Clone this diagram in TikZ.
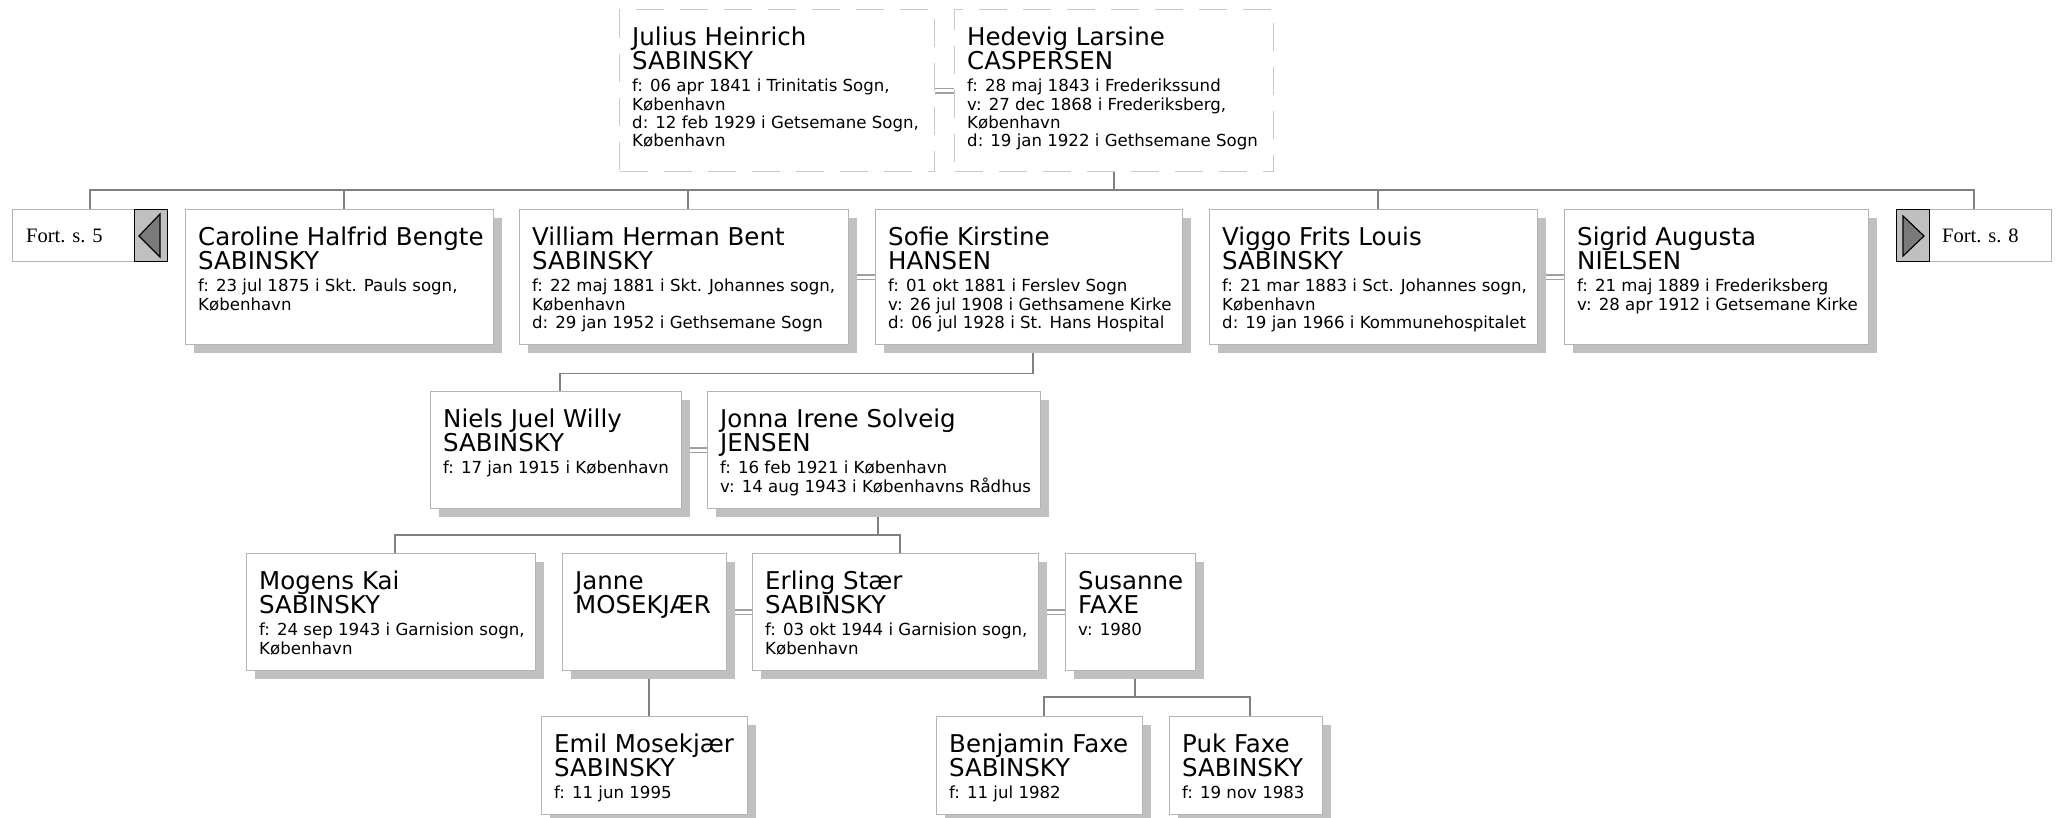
\documentclass[tikz,border=0pt]{standalone}
\usepackage{fontspec}
\setmainfont{DejaVu Sans}
\newfontfamily\fortfont{Liberation Serif}
\usepackage{tikz}
\usetikzlibrary{shadows}
\usetikzlibrary{backgrounds}

\definecolor{boxgray}{HTML}{B4B4B4}
\definecolor{shadowgray}{HTML}{C0C0C0}
\definecolor{linegray}{HTML}{808080}
\definecolor{wedgray}{HTML}{A0A0A0}
\definecolor{dashgray}{HTML}{C8C8C8}
\definecolor{btngray}{HTML}{C0C0C0}
\definecolor{trigray}{HTML}{7A7A7A}

\newcommand{\namefont}{\fontsize{24.5}{24.5}\selectfont}
\newcommand{\infofont}{\fontsize{16.6}{18.4}\selectfont\lineskiplimit=-50pt}
\newcommand{\nm}[1]{{\namefont\rule{0pt}{19pt}#1}}

\begin{document}
\begin{tikzpicture}[x=1pt, y=-1pt,
	card/.style={draw=boxgray, line width=1.4pt, fill=white, anchor=north west, inner sep=0pt,
		drop shadow={shadow xshift=8pt, shadow yshift=-8pt, fill=shadowgray, opacity=1}},
	parent/.style={draw=dashgray, line width=1.4pt, dash pattern=on 28pt off 16pt, fill=white, anchor=north west, inner sep=0pt},
	info/.style={anchor=north west, align=left, inner xsep=13pt, inner ysep=17pt, font=\infofont},
	fortbox/.style={draw=boxgray, line width=1.4pt, fill=white, anchor=north west, inner sep=0pt, minimum width=155pt, minimum height=52pt},
	fortbtn/.style={draw=black, line width=1.4pt, fill=btngray, anchor=north west, inner sep=0pt, minimum width=33pt, minimum height=52pt},
	forttxt/.style={anchor=base west, inner sep=0pt, font=\fortfont\fontsize{20.5}{24}\selectfont},
	tri/.style={draw=black, line width=1.2pt, fill=trigray, line join=miter},
	link/.style={draw=linegray, line width=1.8pt},
	wed/.style={draw=wedgray, line width=1.6pt, double=white, double distance=3pt}]
	\useasboundingbox (0,0) rectangle (2060,817);

	\node[parent, minimum width=315pt, minimum height=162pt] (julius) at (619,9) {};
	\node[info] (julius-t) at (julius.north west) {\nm{Julius Heinrich}\\[6.1pt]\nm{SABINSKY}\\[3.6pt]f: 06 apr 1841 i Trinitatis Sogn,\\København\\d: 12 feb 1929 i Getsemane Sogn,\\København};
	\node[parent, minimum width=319pt, minimum height=162pt] (hedevig) at (954,9) {};
	\node[info] (hedevig-t) at (hedevig.north west) {\nm{Hedevig Larsine}\\[6.1pt]\nm{CASPERSEN}\\[3.6pt]f: 28 maj 1843 i Frederikssund\\v: 27 dec 1868 i Frederiksberg,\\København\\d: 19 jan 1922 i Gethsemane Sogn};

	\node[fortbox] (fort5) at (12,209) {};
	\node[fortbtn] (fort5-btn) at (134,209) {};
	\node[forttxt] (fort5-t) at (26,242) {Fort. s. 5};
	\draw[tri] (139,236) -- (160,214) -- (160,257) -- cycle;

	\node[card, minimum width=308pt, minimum height=135pt] (caroline) at (185,209) {};
	\node[info] (caroline-t) at (caroline.north west) {\nm{Caroline Halfrid Bengte}\\[6.1pt]\nm{SABINSKY}\\[3.6pt]f: 23 jul 1875 i Skt. Pauls sogn,\\København};
	\node[card, minimum width=329pt, minimum height=135pt] (villiam) at (519,209) {};
	\node[info] (villiam-t) at (villiam.north west) {\nm{Villiam Herman Bent}\\[6.1pt]\nm{SABINSKY}\\[3.6pt]f: 22 maj 1881 i Skt. Johannes sogn,\\København\\d: 29 jan 1952 i Gethsemane Sogn};
	\node[card, minimum width=307pt, minimum height=135pt] (sofie) at (875,209) {};
	\node[info] (sofie-t) at (sofie.north west) {\nm{Sofie Kirstine}\\[6.1pt]\nm{HANSEN}\\[3.6pt]f: 01 okt 1881 i Ferslev Sogn\\v: 26 jul 1908 i Gethsamene Kirke\\d: 06 jul 1928 i St. Hans Hospital};
	\node[card, minimum width=328pt, minimum height=135pt] (viggo) at (1209,209) {};
	\node[info] (viggo-t) at (viggo.north west) {\nm{Viggo Frits Louis}\\[6.1pt]\nm{SABINSKY}\\[3.6pt]f: 21 mar 1883 i Sct. Johannes sogn,\\København\\d: 19 jan 1966 i Kommunehospitalet};
	\node[card, minimum width=304pt, minimum height=135pt] (sigrid) at (1564,209) {};
	\node[info] (sigrid-t) at (sigrid.north west) {\nm{Sigrid Augusta}\\[6.1pt]\nm{NIELSEN}\\[3.6pt]f: 21 maj 1889 i Frederiksberg\\v: 28 apr 1912 i Getsemane Kirke};

	\node[fortbox] (fort8) at (1896,209) {};
	\node[fortbtn] (fort8-btn) at (1896,209) {};
	\node[forttxt] (fort8-t) at (1942,242) {Fort. s. 8};
	\draw[tri] (1924,236) -- (1903,216) -- (1903,256) -- cycle;

	\node[card, minimum width=251pt, minimum height=117pt] (niels) at (430,391) {};
	\node[info] (niels-t) at (niels.north west) {\nm{Niels Juel Willy}\\[6.1pt]\nm{SABINSKY}\\[3.6pt]f: 17 jan 1915 i København};
	\node[card, minimum width=333pt, minimum height=117pt] (jonna) at (707,391) {};
	\node[info] (jonna-t) at (jonna.north west) {\nm{Jonna Irene Solveig}\\[6.1pt]\nm{JENSEN}\\[3.6pt]f: 16 feb 1921 i København\\v: 14 aug 1943 i Københavns Rådhus};

	\node[card, minimum width=289pt, minimum height=117pt] (mogens) at (246,553) {};
	\node[info] (mogens-t) at (mogens.north west) {\nm{Mogens Kai}\\[6.1pt]\nm{SABINSKY}\\[3.6pt]f: 24 sep 1943 i Garnision sogn,\\København};
	\node[card, minimum width=164pt, minimum height=117pt] (janne) at (562,553) {};
	\node[info] (janne-t) at (janne.north west) {\nm{Janne}\\[6.1pt]\nm{MOSEKJÆR}};
	\node[card, minimum width=286pt, minimum height=117pt] (erling) at (752,553) {};
	\node[info] (erling-t) at (erling.north west) {\nm{Erling Stær}\\[6.1pt]\nm{SABINSKY}\\[3.6pt]f: 03 okt 1944 i Garnision sogn,\\København};
	\node[card, minimum width=130pt, minimum height=117pt] (susanne) at (1065,553) {};
	\node[info] (susanne-t) at (susanne.north west) {\nm{Susanne}\\[6.1pt]\nm{FAXE}\\[3.6pt]v: 1980};

	\node[card, minimum width=206pt, minimum height=98pt] (emil) at (541,716) {};
	\node[info] (emil-t) at (emil.north west) {\nm{Emil Mosekjær}\\[6.1pt]\nm{SABINSKY}\\[3.6pt]f: 11 jun 1995};
	\node[card, minimum width=206pt, minimum height=98pt] (benjamin) at (936,716) {};
	\node[info] (benjamin-t) at (benjamin.north west) {\nm{Benjamin Faxe}\\[6.1pt]\nm{SABINSKY}\\[3.6pt]f: 11 jul 1982};
	\node[card, minimum width=153pt, minimum height=98pt] (puk) at (1169,716) {};
	\node[info] (puk-t) at (puk.north west) {\nm{Puk Faxe}\\[6.1pt]\nm{SABINSKY}\\[3.6pt]f: 19 nov 1983};

	\begin{scope}[on background layer]
		\draw[wed] (julius.east) -- (hedevig.west);
		\draw[wed] (villiam.east) -- (sofie.west);
		\draw[wed] (viggo.east) -- (sigrid.west);
		\draw[wed] (niels.east) -- (jonna.west);
		\draw[wed] (janne.east) -- (erling.west);
		\draw[wed] (erling.east) -- (susanne.west);

		\draw[link] (hedevig.south) -- ++(0,19);
		\draw[link] (fort5.north) -- ++(0,-19) -| (fort8.north);
		\draw[link] ([xshift=4pt]caroline.north) -- ++(0,-19);
		\draw[link] ([xshift=4pt]villiam.north) -- ++(0,-19);
		\draw[link] ([xshift=4pt]viggo.north) -- ++(0,-19);

		\draw[link] ([xshift=4pt]sofie.south) -- ++(0,28) -| ([xshift=4pt]niels.north);
		\draw[link] ([xshift=4pt]jonna.south) -- ++(0,27);
		\draw[link] ([xshift=4pt]mogens.north) -- ++(0,-18) -| ([xshift=4pt]erling.north);
		\draw[link] ([xshift=4pt]janne.south) -- ([xshift=4pt]emil.north);
		\draw[link] ([xshift=4pt]susanne.south) -- ++(0,26);
		\draw[link] ([xshift=4pt]benjamin.north) -- ++(0,-19) -| ([xshift=4pt]puk.north);
	\end{scope}
\end{tikzpicture}
\end{document}
